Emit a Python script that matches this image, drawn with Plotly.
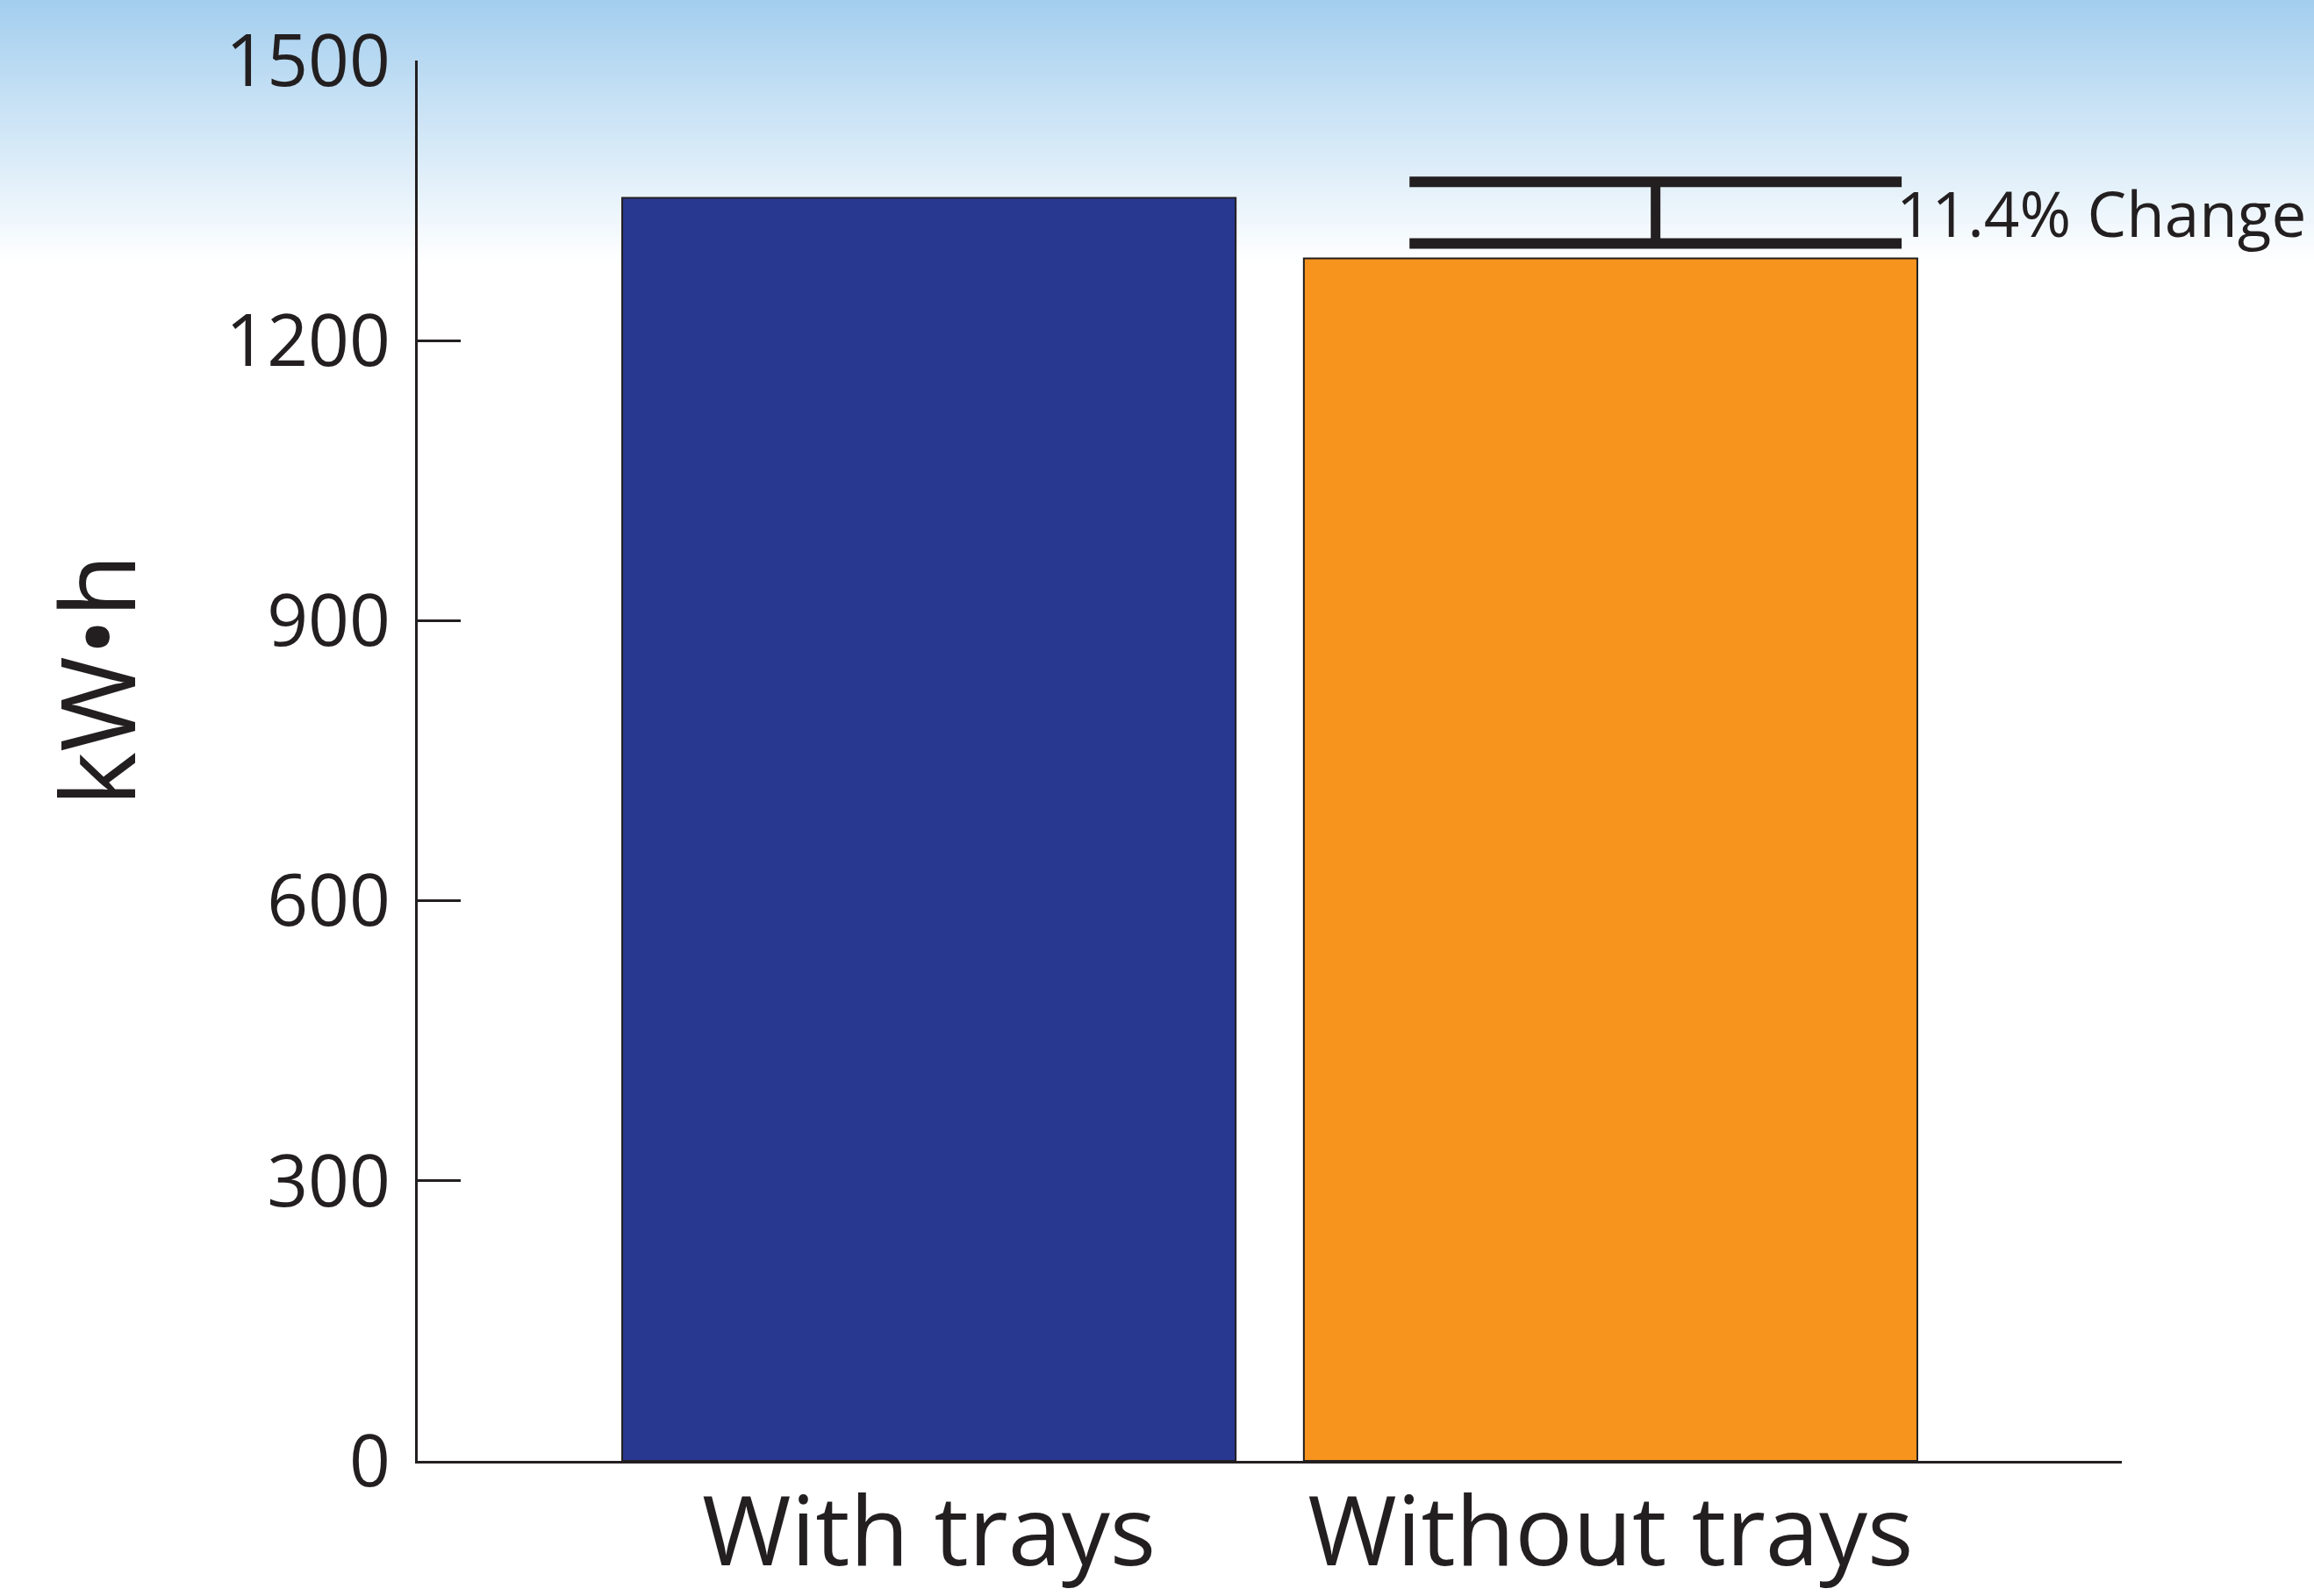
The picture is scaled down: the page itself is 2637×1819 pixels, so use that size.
import plotly.graph_objects as go

# ---- data ----
categories = ["With trays", "Without trays"]
energy_kwh = [1353, 1288]
bar_colors = ["#283891", "#F7941D"]
y_ticks = [0, 300, 600, 900, 1200, 1500]
y_title = "kW•h"
change_label = "11.4% Change"
bracket_levels = [1370, 1304]      # upper / lower bracket lines (kW·h)
bracket_span = [0.705, 1.427]      # category-axis positions
bracket_mid = 1.066

W, H = 2637, 1819
ML, MR, MT, MB = 476, 219, 69, 154
plot_h = H - MT - MB

fig = go.Figure()
fig.add_trace(go.Bar(
    x=categories, y=energy_kwh, width=0.9,
    marker=dict(color=bar_colors, line=dict(color="#231F20", width=2)),
    showlegend=False, hoverinfo="x+y",
))

line_col = "#231F20"
shapes = []
# gradient background strips (top of page)
top_rgb = (163, 206, 238)
n = 60
grad_px = 300
for i in range(n):
    y0px = i * grad_px / n
    y1px = (i + 1) * grad_px / n + 1
    t = (i + 0.5) / n
    c = tuple(int(round(top_rgb[k] + (255 - top_rgb[k]) * t)) for k in range(3))
    shapes.append(dict(
        type="rect", xref="paper", yref="paper", layer="below",
        x0=-0.3, x1=1.2,
        y0=(H - MB - y1px) / plot_h, y1=(H - MB - y0px + (2 if i == 0 else 0)) / plot_h,
        fillcolor=f"rgb{c}", line=dict(width=0),
    ))
for yv in bracket_levels:
    shapes.append(dict(type="line", xref="x", yref="y",
                       x0=bracket_span[0], x1=bracket_span[1], y0=yv, y1=yv,
                       line=dict(color=line_col, width=12)))
shapes.append(dict(type="line", xref="x", yref="y",
                   x0=bracket_mid, x1=bracket_mid,
                   y0=bracket_levels[1], y1=bracket_levels[0],
                   line=dict(color=line_col, width=11)))

font_family = "Open Sans"
fig.update_layout(
    width=W, height=H,
    margin=dict(l=ML, r=MR, t=MT, b=MB, autoexpand=False),
    paper_bgcolor="white", plot_bgcolor="rgba(0,0,0,0)",
    shapes=shapes,
    font=dict(family=font_family, color="#231F20"),
    bargap=0.1,
    annotations=[
        dict(text=change_label, x=1.416, y=(bracket_levels[0] + bracket_levels[1]) / 2,
             xref="x", yref="y", xanchor="left", yanchor="middle", showarrow=False,
             font=dict(size=71, family=font_family, color="#231F20")),
        dict(text=y_title, x=(108 - ML) / (W - ML - MR), y=0.5576,
             xref="paper", yref="paper", xanchor="center", yanchor="middle",
             textangle=-90, showarrow=False,
             font=dict(size=118, family=font_family, color="#231F20")),
    ],
)
fig.update_xaxes(
    range=[-0.75, 1.75], showline=True, linecolor="#231F20", linewidth=3,
    ticks="", showgrid=False, zeroline=False, automargin=False,
    tickfont=dict(size=110, family=font_family, color="#231F20"),
    ticklabelstandoff=-16,
)
fig.update_yaxes(
    range=[0, 1500], tickvals=y_ticks, ticktext=[str(v) for v in y_ticks],
    ticks="inside", ticklen=49, tickwidth=2.5, tickcolor="#231F20",
    showline=True, linecolor="#231F20", linewidth=2.5,
    showgrid=False, zeroline=False, automargin=False,
    tickfont=dict(size=82, family=font_family, color="#231F20"),
    ticklabelstandoff=12,
)

fig.write_html("out.html", config={"displayModeBar": False},
               post_script="document.body.style.margin='0';document.body.style.overflow='hidden';")
